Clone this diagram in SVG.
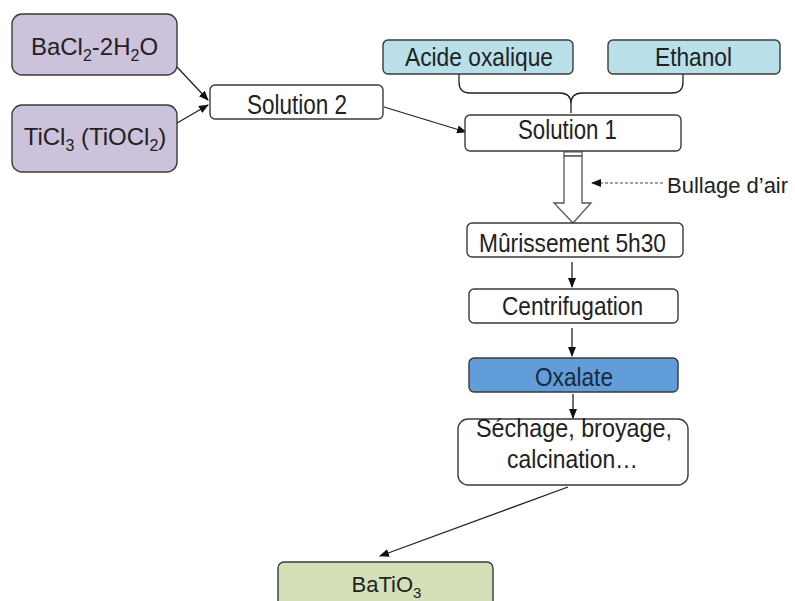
<svg xmlns="http://www.w3.org/2000/svg" width="795" height="601" viewBox="0 0 795 601">
<defs>
<style>
.t{font-family:"Liberation Sans",Arial,sans-serif;font-size:25px;fill:#222}
.b{stroke:#3a3a3a;stroke-width:1.4}
.c{stroke:#222;stroke-width:1.3;fill:none}
</style>
<marker id="ah" markerWidth="10" markerHeight="8" refX="9" refY="4" orient="auto" markerUnits="userSpaceOnUse">
<path d="M0,0 L10,4 L0,8 z" fill="#111"/>
</marker>
</defs>
<rect width="795" height="601" fill="#fff"/>
<g id="connectors">
<line class="c" x1="177" y1="67" x2="208" y2="100" marker-end="url(#ah)"/>
<line class="c" x1="160" y1="133" x2="208" y2="105" marker-end="url(#ah)"/>
<line class="c" x1="384" y1="107" x2="466" y2="132" marker-end="url(#ah)"/>
<path class="c" d="M459,74 V82 Q459,93 470,93 H560 Q571,93 571,104 V113 M683,74 V82 Q683,93 672,93 H582 Q571,93 571,104"/>
<rect x="564" y="144" width="18" height="12" fill="#fff" stroke="#555" stroke-width="1.2"/>
<line x1="564" y1="148" x2="582" y2="148" stroke="#555" stroke-width="1"/>
<line x1="564" y1="152" x2="582" y2="152" stroke="#555" stroke-width="1"/>
<polygon points="564,156 582,156 582,203 591,203 573,223 554,203 564,203" fill="#fff" stroke="#555" stroke-width="1.3"/>
<line x1="663" y1="183" x2="592" y2="183" stroke="#444" stroke-width="1.2" stroke-dasharray="3,2" marker-end="url(#ah)"/>
<line class="c" x1="572" y1="262" x2="572" y2="287" marker-end="url(#ah)"/>
<line class="c" x1="572" y1="328" x2="572" y2="356" marker-end="url(#ah)"/>
<line class="c" x1="573" y1="394" x2="573" y2="418" marker-end="url(#ah)"/>
<line class="c" x1="568" y1="487" x2="380" y2="556" marker-end="url(#ah)"/>
</g>
<g id="bacl2">
<rect class="b" x="12" y="14" width="165" height="61" rx="10" fill="#ccc2db"/>
<text class="t" x="94.5" y="55" text-anchor="middle" style="font-size:24px">BaCl<tspan font-size="16" dy="6">2</tspan><tspan dy="-6">-2H</tspan><tspan font-size="16" dy="6">2</tspan><tspan dy="-6">O</tspan></text>
</g>
<g id="ticl3">
<rect class="b" x="12" y="105" width="165" height="67" rx="10" fill="#ccc2db"/>
<text class="t" x="95" y="145" text-anchor="middle" style="font-size:24px">TiCl<tspan font-size="16" dy="6">3</tspan><tspan dy="-6"> (TiOCl</tspan><tspan font-size="16" dy="6">2</tspan><tspan dy="-6">)</tspan></text>
</g>
<g id="solution2">
<rect class="b" x="210" y="85" width="173" height="34" rx="5" fill="#fff"/>
<text class="t" x="297" y="114" text-anchor="middle" style="font-size:27px" textLength="100" lengthAdjust="spacingAndGlyphs">Solution 2</text>
</g>
<g id="acide">
<rect class="b" x="383" y="40" width="190" height="34" rx="5" fill="#b9dfe8"/>
<text class="t" x="479" y="66" text-anchor="middle" textLength="148" lengthAdjust="spacingAndGlyphs">Acide oxalique</text>
</g>
<g id="ethanol">
<rect class="b" x="608" y="40" width="172" height="34" rx="5" fill="#b9dfe8"/>
<text class="t" x="693.5" y="66" text-anchor="middle" textLength="77" lengthAdjust="spacingAndGlyphs">Ethanol</text>
</g>
<g id="solution1">
<rect class="b" x="465" y="115" width="216" height="36" rx="5" fill="#fff"/>
<text class="t" x="567.5" y="139" text-anchor="middle" style="font-size:27px" textLength="99" lengthAdjust="spacingAndGlyphs">Solution 1</text>
</g>
<g id="bullage">
<text class="t" x="667" y="193" style="font-size:22px">Bullage d’air</text>
</g>
<g id="murissement">
<rect class="b" x="467" y="223" width="216" height="34" rx="5" fill="#fff"/>
<text class="t" x="572.5" y="252" text-anchor="middle" textLength="187" lengthAdjust="spacingAndGlyphs">Mûrissement 5h30</text>
</g>
<g id="centrifugation">
<rect class="b" x="469" y="289" width="209" height="34" rx="5" fill="#fff"/>
<text class="t" x="572.5" y="315" text-anchor="middle" textLength="141" lengthAdjust="spacingAndGlyphs">Centrifugation</text>
</g>
<g id="oxalate">
<rect class="b" x="469" y="358" width="209" height="34" rx="5" fill="#619dd9" stroke="#2f4f6f"/>
<text class="t" x="574" y="386" text-anchor="middle" textLength="78" lengthAdjust="spacingAndGlyphs" style="fill:#1a2a3a">Oxalate</text>
</g>
<g id="sechage">
<rect class="b" x="458" y="419" width="230" height="66" rx="10" fill="#fff"/>
<text class="t" x="574" y="437" text-anchor="middle" textLength="196" lengthAdjust="spacingAndGlyphs">Séchage, broyage,</text>
<text class="t" x="572.5" y="468" text-anchor="middle" textLength="131" lengthAdjust="spacingAndGlyphs">calcination…</text>
</g>
<g id="batio3">
<rect class="b" x="278" y="562" width="215" height="50" rx="6" fill="#d4e1b8"/>
<text class="t" x="386.5" y="592" text-anchor="middle" style="font-size:22px">BaTiO<tspan font-size="15" dy="6">3</tspan></text>
</g>
</svg>
